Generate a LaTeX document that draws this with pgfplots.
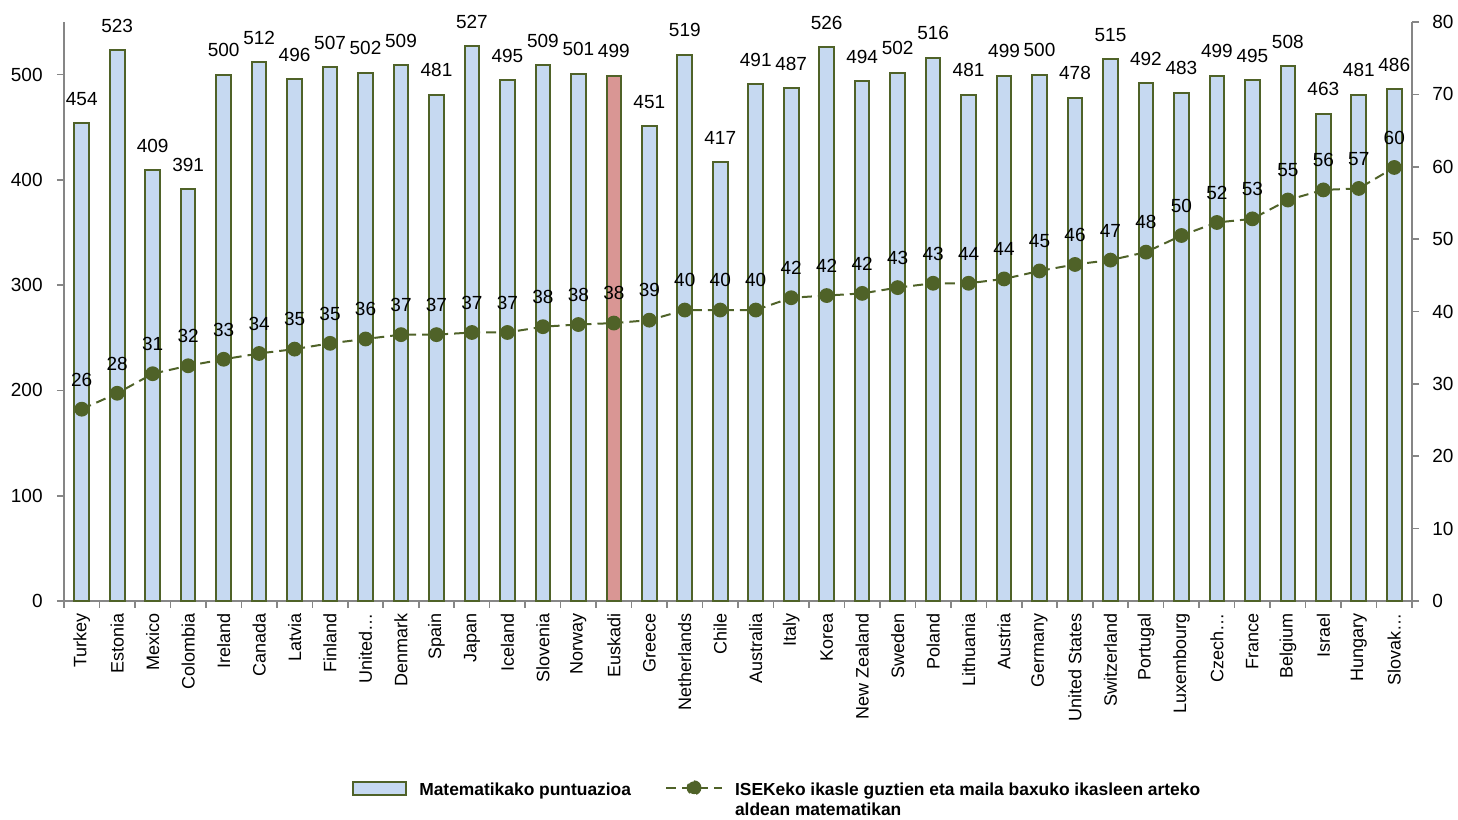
\documentclass[border=0pt]{standalone}
\usepackage{fontspec}
\setmainfont{Liberation Sans}
\usepackage{pgfplots}
\pgfplotsset{compat=1.18}
\usepackage{pgfplotstable}

\definecolor{olive}{HTML}{4F6228}
\definecolor{barblue}{HTML}{C6D9F1}
\definecolor{barred}{HTML}{D99694}
\definecolor{axisgray}{HTML}{868686}

\pgfplotstableread[col sep=comma]{
x,name,score,gap,lab
0,Turkey,454,26.5,26
1,Estonia,523,28.7,28
2,Mexico,409,31.4,31
3,Colombia,391,32.5,32
4,Ireland,500,33.4,33
5,Canada,512,34.2,34
6,Latvia,496,34.8,35
7,Finland,507,35.6,35
8,United…,502,36.2,36
9,Denmark,509,36.8,37
10,Spain,481,36.8,37
11,Japan,527,37.1,37
12,Iceland,495,37.1,37
13,Slovenia,509,37.9,38
14,Norway,501,38.2,38
15,Euskadi,499,38.4,38
16,Greece,451,38.8,39
17,Netherlands,519,40.2,40
18,Chile,417,40.2,40
19,Australia,491,40.2,40
20,Italy,487,41.9,42
21,Korea,526,42.2,42
22,New Zealand,494,42.5,42
23,Sweden,502,43.3,43
24,Poland,516,43.9,43
25,Lithuania,481,43.9,44
26,Austria,499,44.5,44
27,Germany,500,45.6,45
28,United States,478,46.5,46
29,Switzerland,515,47.1,47
30,Portugal,492,48.2,48
31,Luxembourg,483,50.5,50
32,Czech…,499,52.3,52
33,France,495,52.8,53
34,Belgium,508,55.4,55
35,Israel,463,56.8,56
36,Hungary,481,57.0,57
37,Slovak…,486,59.9,60
}\data

\pgfplotsset{/pgf/number format/assume math mode=true}

\begin{document}
\begin{tikzpicture}
\begin{axis}[
  name=main,
  scale only axis, width=674pt, height=289.5pt,
  xmin=-0.5, xmax=37.5, ymin=0, ymax=550,
  clip=false,
  axis x line*=bottom, axis y line*=left,
  axis line style={axisgray, line width=0.8pt},
  tick style={axisgray, line width=0.8pt},
  tick align=outside,
  major tick length=3.5pt, minor tick length=3.5pt,
  ytick={0,100,...,500},
  yticklabel style={font=\fontsize{9.5}{11}\selectfont, inner sep=0pt, xshift=-7pt},
  xtick={0,...,37},
  xticklabels from table={\data}{name},
  major x tick style={draw=none},
  minor xtick={-0.5,0.5,...,37.5},
  xticklabel style={font=\fontsize{9}{11}\selectfont, rotate=90, anchor=east, inner xsep=2.5pt, inner ysep=0pt},
]
\addplot[ybar, bar width=7.3pt, bar shift=0pt, fill=barblue, draw=olive, line width=1pt,
  nodes near coords,
  every node near coord/.append style={font=\fontsize{9.5}{11}\selectfont, text=black, anchor=south, inner sep=0pt, yshift=8.3pt}]
  table[x=x, y=score] {\data};
\addplot[ybar, bar width=7.3pt, bar shift=0pt, fill=barred, draw=olive, line width=1pt]
  coordinates {(15,499)};
\end{axis}

\begin{axis}[
  scale only axis, width=674pt, height=289.5pt,
  xmin=-0.5, xmax=37.5, ymin=0, ymax=80,
  clip=false,
  axis x line=none, axis y line*=right,
  axis line style={axisgray, line width=0.8pt},
  tick style={axisgray, line width=0.8pt},
  tick align=outside,
  major tick length=3.5pt,
  ytick={0,10,...,80},
  yticklabel style={font=\fontsize{9.5}{11}\selectfont, inner sep=0pt, xshift=6.5pt},
  legend columns=2,
  legend style={at={(0.2136,-0.307)}, anchor=north west, draw=none, fill=none,
    font=\fontsize{8.7}{10}\selectfont\bfseries, inner sep=0pt,
    cells={anchor=base west, inner sep=0pt},
    column sep=4pt,
    /tikz/every even column/.append style={column sep=15pt}},
]
\addlegendimage{legend image code/.code={\draw[fill=barblue, draw=olive, line width=1pt] (0pt,0.5pt) rectangle (26.5pt,7pt);}}
\addlegendentry{Matematikako puntuazioa}
\addplot[olive, line width=1pt, dash pattern=on 5pt off 3pt,
  mark=*, mark size=3.2pt, mark options={solid, fill=olive, draw=olive},
  nodes near coords, point meta=explicit symbolic,
  every node near coord/.append style={font=\fontsize{9.5}{11}\selectfont, text=black, anchor=south, inner sep=0pt, yshift=11pt},
  legend image code/.code={\draw[olive, line width=1pt, dash pattern=on 5pt off 3pt] (0pt,4pt) -- (28pt,4pt); \fill[olive] (14pt,4pt) circle (3.2pt);}]
  table[x=x, y=gap, meta=lab] {\data};
\addlegendentry{\parbox[t]{240pt}{ISEKeko ikasle guztien eta maila baxuko ikasleen arteko\\aldean matematikan}}
\end{axis}
\path ([xshift=-32pt,yshift=-109.5pt]main.south west) rectangle ([xshift=23pt,yshift=11pt]main.north east);
\end{tikzpicture}
\end{document}
